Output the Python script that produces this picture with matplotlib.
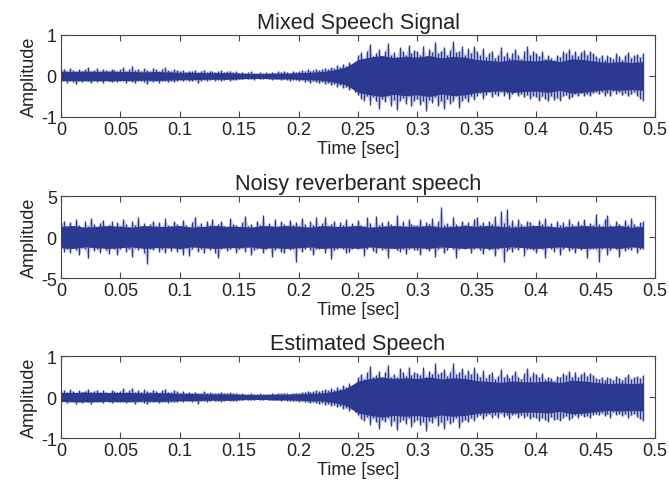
import numpy as np
import matplotlib.pyplot as plt

# peak envelope of each waveform, one value every 2.5 ms from 0 to 0.49 s
dt = 0.0025
# dense body of each waveform (half-width), one value every 10 ms
dt_core = 0.01

mixed_upper = [
    .14, .18, .12, .2, .15, .11, .17, .13, .16, .21, .12, .15, .19, .13, .17, .14, .12, .18, .15, .13,
    .16, .22, .13, .17, .25, .14, .18, .12, .2, .15, .13, .19, .16, .12, .17, .21, .14, .13, .18, .15,
    .12, .15, .1, .13, .11, .14, .09, .12, .15, .1, .13, .11, .09, .12, .14, .1, .11, .13, .09, .11,
    .08, .1, .07, .09, .11, .08, .07, .1, .08, .09, .07, .1, .08, .11, .09, .12, .1, .08, .12, .1,
    .11, .14, .12, .16, .13, .15, .18, .14, .17, .2, .16, .22, .19, .26, .21, .3, .24, .34, .27, .32,
    .5, .58, .42, .62, .78, .48, .55, .66, .45, .6, .8, .52, .58, .47, .7, .62, .5, .76, .55, .64,
    .6, .52, .74, .48, .66, .58, .84, .55, .62, .7, .5, .64, .86, .58, .6, .72, .52, .68, .56, .74,
    .6, .5, .68, .46, .56, .62, .44, .52, .7, .48, .58, .45, .55, .66, .5, .42, .6, .72, .5, .62,
    .56, .48, .6, .42, .5, .45, .38, .52, .47, .6, .55, .66, .5, .62, .48, .58, .64, .52, .6, .55,
    .48, .44, .52, .4, .5, .46, .42, .55, .48, .4, .52, .58, .45, .5, .54, .46, .56,
]
mixed_lower = [
    -.12, -.1, -.16, -.11, -.14, -.2, -.12, -.15, -.1, -.13, -.18, -.11, -.14, -.12, -.16, -.1, -.13, -.15, -.11, -.14,
    -.13, -.11, -.16, -.12, -.14, -.18, -.11, -.13, -.15, -.2, -.12, -.14, -.11, -.16, -.13, -.12, -.15, -.11, -.14, -.12,
    -.1, -.12, -.09, -.11, -.13, -.1, -.18, -.11, -.09, -.12, -.1, -.08, -.11, -.09, -.12, -.1, -.08, -.11, -.09, -.1,
    -.07, -.08, -.06, -.08, -.07, -.09, -.06, -.08, -.07, -.06, -.08, -.09, -.07, -.08, -.1, -.08, -.09, -.11, -.09, -.1,
    -.12, -.1, -.14, -.12, -.16, -.13, -.15, -.18, -.14, -.2, -.17, -.22, -.2, -.26, -.22, -.3, -.26, -.34, -.3, -.38,
    -.46, -.55, -.6, -.48, -.7, -.52, -.62, -.8, -.55, -.64, -.5, -.72, -.58, -.82, -.6, -.54, -.68, -.5, -.74, -.6,
    -.56, -.7, -.62, -.85, -.58, -.66, -.52, -.72, -.6, -.8, -.55, -.68, -.62, -.5, -.78, -.6, -.54, -.64, -.5, -.58,
    -.48, -.42, -.55, -.46, -.4, -.52, -.44, -.5, -.38, -.48, -.42, -.55, -.45, -.4, -.5, -.44, -.52, -.46, -.55, -.48,
    -.52, -.6, -.5, -.56, -.62, -.48, -.58, -.54, -.6, -.5, -.46, -.56, -.52, -.44, -.5, -.42, -.48, -.45, -.5, -.42,
    -.4, -.45, -.38, -.48, -.42, -.5, -.36, -.44, -.4, -.47, -.42, -.5, -.45, -.4, -.48, -.55, -.6,
]
mixed_core = [
    .12, .11, .12, .11, .12, .11, .11, .1, .11, .1,
    .09, .09, .08, .08, .08, .07, .06, .06, .07, .07,
    .08, .09, .11, .15, .22, .4, .46, .5, .45, .48,
    .46, .5, .44, .48, .46, .4, .38, .36, .4, .38,
    .37, .4, .35, .42, .4, .36, .33, .35, .33, .35,
]

noisy_upper = [
    1.6, 2.0, 1.3, 1.8, 1.2, 2.2, 1.5, 1.1, 1.9, 1.4, 2.3, 1.6, 1.2, 1.7, 2.1, 1.3, 1.5, 1.9, 1.2, 1.8,
    1.4, 2.2, 1.6, 1.2, 1.9, 1.5, 2.4, 1.3, 1.7, 1.1, 1.6, 2.0, 1.4, 1.8, 1.2, 2.3, 1.5, 1.3, 1.9, 1.6,
    1.3, 2.1, 1.5, 1.2, 1.8, 2.5, 1.4, 1.7, 1.2, 1.9, 1.5, 2.2, 1.3, 1.6, 2.0, 1.4, 1.2, 2.3, 1.6, 1.5,
    1.2, 1.8, 2.6, 1.4, 1.6, 1.2, 2.0, 1.5, 2.7, 1.3, 1.7, 1.4, 2.2, 1.2, 1.9, 1.6, 1.3, 2.1, 1.5, 1.8,
    1.4, 2.3, 1.6, 1.2, 1.9, 1.5, 2.4, 1.3, 1.7, 2.5, 1.4, 1.6, 2.0, 1.2, 1.8, 1.5, 2.2, 1.3, 1.7, 1.4,
    2.1, 1.5, 1.3, 2.4, 1.7, 1.2, 2.6, 1.5, 1.8, 1.3, 2.0, 1.6, 1.2, 2.7, 1.4, 1.9, 1.3, 2.2, 1.6, 1.5,
    1.5, 2.2, 1.3, 1.8, 1.6, 2.3, 1.4, 1.9, 3.6, 1.5, 1.7, 1.3, 2.4, 1.6, 1.2, 2.0, 1.5, 1.8, 1.3, 2.2,
    2.4, 1.5, 1.8, 1.3, 2.0, 1.6, 2.6, 1.4, 3.2, 1.7, 3.4, 1.5, 2.1, 1.3, 2.2, 1.6, 1.4, 2.0, 1.8, 1.5,
    1.3, 2.1, 1.6, 2.3, 1.4, 1.7, 1.2, 2.0, 1.5, 1.8, 1.3, 2.2, 1.6, 1.4, 2.0, 1.5, 2.2, 1.3, 1.7, 1.5,
    2.8, 1.6, 1.4, 2.2, 2.7, 1.5, 1.3, 2.0, 1.6, 1.4, 2.1, 1.5, 2.3, 1.6, 1.3, 1.8, 1.9,
]
noisy_lower = [
    -1.2, -1.8, -1.4, -2.0, -1.1, -1.6, -2.2, -1.3, -1.5, -2.6, -1.2, -1.7, -1.4, -1.9, -1.2, -1.6, -2.1, -1.3, -1.5, -2.2,
    -1.5, -1.2, -1.8, -1.4, -2.4, -1.3, -1.6, -1.2, -1.9, -3.3, -1.4, -1.6, -1.2, -1.8, -1.5, -2.0, -1.3, -1.7, -1.2, -1.8,
    -1.4, -2.2, -1.3, -2.3, -1.5, -1.2, -1.8, -1.4, -2.0, -1.3, -1.6, -1.2, -1.9, -2.6, -1.4, -1.3, -1.7, -1.5, -1.2, -1.9,
    -1.5, -1.3, -1.8, -1.2, -2.2, -1.6, -1.4, -1.3, -1.9, -1.5, -1.2, -2.4, -1.6, -1.3, -1.8, -2.0, -1.2, -1.6, -1.4, -3.0,
    -1.3, -1.8, -1.5, -1.2, -1.6, -2.2, -1.4, -1.5, -1.3, -1.9, -1.2, -2.7, -1.6, -1.4, -1.3, -1.5, -2.0, -1.8, -1.4, -1.2,
    -1.5, -1.3, -2.3, -1.4, -1.2, -1.7, -1.9, -1.3, -1.6, -1.4, -2.5, -1.3, -1.2, -1.6, -1.8, -1.4, -2.1, -1.5, -1.3, -1.6,
    -1.6, -2.2, -1.3, -1.5, -1.7, -1.2, -2.4, -1.5, -1.3, -2.0, -1.6, -1.2, -1.4, -2.6, -1.5, -1.3, -1.5, -1.2, -1.9, -1.4,
    -1.3, -1.6, -2.1, -1.2, -1.6, -1.4, -2.3, -1.5, -1.3, -3.0, -1.7, -1.4, -1.8, -1.3, -1.6, -1.2, -2.3, -1.5, -1.4, -1.6,
    -2.0, -1.3, -1.5, -2.5, -1.2, -1.4, -1.8, -1.3, -2.2, -1.5, -1.2, -1.7, -1.4, -2.0, -1.3, -1.6, -1.3, -2.6, -1.5, -1.4,
    -1.4, -3.0, -1.5, -1.3, -2.2, -1.6, -1.2, -1.5, -2.4, -1.3, -1.7, -1.4, -1.6, -1.2, -2.0, -1.5, -1.4,
]
noisy_core = [
    1.3, 1.4, 1.2, 1.3, 1.4, 1.3, 1.2, 1.4, 1.3, 1.3,
    1.4, 1.2, 1.3, 1.4, 1.3, 1.3, 1.2, 1.4, 1.3, 1.4,
    1.3, 1.2, 1.4, 1.3, 1.3, 1.4, 1.2, 1.3, 1.4, 1.3,
    1.3, 1.4, 1.2, 1.3, 1.4, 1.3, 1.4, 1.3, 1.2, 1.3,
    1.4, 1.3, 1.2, 1.3, 1.4, 1.3, 1.3, 1.4, 1.2, 1.3,
]

estimated_upper = [
    .13, .17, .12, .19, .14, .11, .16, .13, .15, .2, .12, .14, .18, .12, .16, .13, .11, .17, .14, .12,
    .15, .21, .12, .16, .23, .13, .17, .12, .19, .14, .12, .18, .15, .11, .16, .2, .13, .12, .17, .14,
    .11, .14, .1, .12, .1, .13, .09, .11, .14, .1, .12, .1, .09, .11, .13, .1, .1, .12, .09, .1,
    .08, .09, .07, .08, .1, .08, .07, .09, .08, .08, .07, .09, .08, .1, .09, .11, .1, .08, .11, .1,
    .1, .13, .12, .15, .13, .14, .17, .14, .16, .19, .16, .21, .18, .25, .2, .29, .24, .33, .26, .32,
    .48, .56, .44, .6, .76, .5, .54, .64, .46, .62, .78, .5, .56, .48, .7, .6, .52, .74, .54, .62,
    .58, .54, .72, .5, .64, .56, .82, .56, .6, .68, .52, .62, .84, .56, .6, .7, .54, .66, .55, .72,
    .58, .5, .66, .46, .55, .6, .45, .52, .68, .48, .56, .46, .54, .64, .5, .44, .58, .7, .5, .6,
    .55, .48, .58, .44, .5, .46, .4, .52, .48, .58, .54, .64, .5, .6, .48, .56, .62, .52, .58, .54,
    .47, .44, .5, .42, .48, .46, .42, .52, .47, .42, .5, .55, .45, .48, .52, .46, .54,
]
estimated_lower = [
    -.11, -.1, -.15, -.11, -.13, -.18, -.12, -.14, -.1, -.12, -.17, -.11, -.13, -.12, -.15, -.1, -.12, -.14, -.11, -.13,
    -.12, -.11, -.15, -.12, -.13, -.17, -.11, -.12, -.14, -.18, -.12, -.13, -.11, -.15, -.12, -.11, -.14, -.11, -.13, -.12,
    -.1, -.11, -.09, -.1, -.12, -.1, -.16, -.1, -.09, -.11, -.1, -.08, -.1, -.09, -.11, -.1, -.08, -.1, -.09, -.1,
    -.07, -.08, -.06, -.08, -.07, -.08, -.06, -.08, -.07, -.06, -.08, -.08, -.07, -.08, -.09, -.08, -.09, -.1, -.09, -.1,
    -.11, -.1, -.13, -.12, -.15, -.13, -.15, -.17, -.14, -.19, -.17, -.21, -.2, -.25, -.22, -.29, -.26, -.33, -.3, -.36,
    -.45, -.54, -.58, -.48, -.68, -.52, -.6, -.78, -.56, -.62, -.5, -.7, -.58, -.8, -.6, -.55, -.66, -.5, -.72, -.6,
    -.56, -.68, -.6, -.84, -.58, -.64, -.52, -.7, -.6, -.78, -.56, -.66, -.6, -.5, -.76, -.6, -.55, -.62, -.5, -.58,
    -.48, -.43, -.54, -.46, -.41, -.5, -.44, -.5, -.4, -.48, -.43, -.54, -.45, -.41, -.5, -.44, -.5, -.46, -.54, -.48,
    -.52, -.58, -.5, -.55, -.6, -.48, -.57, -.54, -.58, -.5, -.47, -.55, -.52, -.45, -.5, -.43, -.48, -.46, -.5, -.43,
    -.41, -.45, -.39, -.47, -.42, -.5, -.37, -.44, -.41, -.46, -.42, -.5, -.45, -.41, -.48, -.54, -.58,
]
estimated_core = [
    .11, .11, .12, .11, .11, .11, .11, .1, .11, .1,
    .09, .09, .08, .08, .08, .07, .06, .06, .07, .07,
    .08, .09, .1, .14, .21, .39, .45, .49, .45, .47,
    .45, .49, .44, .47, .45, .4, .38, .36, .39, .37,
    .37, .39, .35, .41, .39, .36, .33, .34, .33, .34,
]

titles = ["Mixed Speech Signal", "Noisy reverberant speech", "Estimated Speech"]
y_limits = [1, 5, 1]
x_ticks = [0, 0.05, 0.1, 0.15, 0.2, 0.25, 0.3, 0.35, 0.4, 0.45, 0.5]
x_tick_labels = ["0", "0.05", "0.1", "0.15", "0.2", "0.25", "0.3", "0.35", "0.4", "0.45", "0.5"]

plt.rcParams['font.family'] = ['Liberation Sans', 'DejaVu Sans']
plt.rcParams['font.size'] = 13
text_color = '#222222'
line_color = '#2B3990'

fig = plt.figure(figsize=(6.69, 4.89), dpi=100)
bottoms = [0.7587, 0.4294, 0.1022]
signals = [
    (mixed_upper, mixed_lower, mixed_core),
    (noisy_upper, noisy_lower, noisy_core),
    (estimated_upper, estimated_lower, estimated_core),
]

for (upper, lower, core), title, lim, bottom in zip(signals, titles, y_limits, bottoms):
    ax = fig.add_axes([0.0912, bottom, 0.8879, 0.1677])
    t = np.arange(len(upper)) * dt
    tc = np.arange(len(core)) * dt_core
    core = np.array(core)
    # light envelope, solid body, then individual peaks on top
    ax.fill_between(t, lower, upper, color=line_color, alpha=0.25, linewidth=0)
    ax.fill_between(tc, -core, core, color=line_color, linewidth=0)
    ax.vlines(t, lower, upper, color=line_color, linewidth=1.0)
    ax.set_xlim(0, 0.5)
    ax.set_ylim(-lim, lim)
    ax.set_xticks(x_ticks)
    ax.set_xticklabels(x_tick_labels)
    ax.set_yticks([-lim, 0, lim])
    ax.set_yticklabels([str(-lim), "0", str(lim)])
    ax.tick_params(direction='in', top=True, right=True, length=4, width=0.8,
                   colors='#444444', labelcolor=text_color, pad=3)
    for spine in ax.spines.values():
        spine.set_color('#444444')
        spine.set_linewidth(0.8)
    ax.set_title(title, color=text_color, pad=5)
    ax.set_xlabel("Time [sec]", color=text_color, labelpad=1)
    ax.set_ylabel("Amplitude", color=text_color, labelpad=2)

fig.savefig("out.png", dpi=100)
